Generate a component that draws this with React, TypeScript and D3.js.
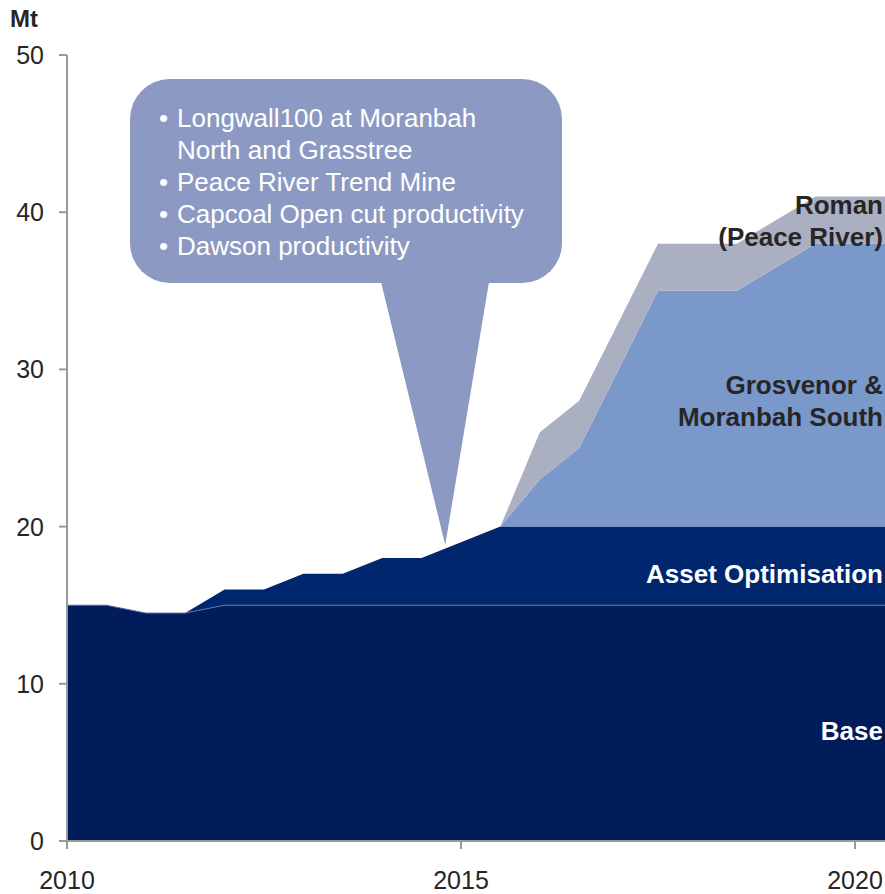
import React, { useEffect, useRef } from "react";
import * as d3 from "d3";

// half-year points, Mt
const years = [
  2010, 2010.5, 2011, 2011.5, 2012, 2012.5, 2013, 2013.5, 2014, 2014.5, 2015,
  2015.5, 2016, 2016.5, 2017, 2017.5, 2018, 2018.5, 2019, 2019.5, 2020, 2020.5,
];
const base = [
  15, 15, 14.5, 14.5, 15, 15, 15, 15, 15, 15, 15, 15, 15, 15, 15, 15, 15, 15,
  15, 15, 15, 15,
];
const assetOptimisation = [
  0, 0, 0, 0, 1, 1, 2, 2, 3, 3, 4, 5, 5, 5, 5, 5, 5, 5, 5, 5, 5, 5,
];
const grosvenor = [
  0, 0, 0, 0, 0, 0, 0, 0, 0, 0, 0, 0, 3, 5, 10, 15, 15, 15, 16.5, 18, 18, 18,
];
const roman = [
  0, 0, 0, 0, 0, 0, 0, 0, 0, 0, 0, 0, 3, 3, 3, 3, 3, 3, 3, 3, 3, 3,
];

const seriesKeys = ["base", "asset", "grosvenor", "roman"];
const seriesColors = ["#001c5a", "#00266e", "#7b98ca", "#aaafc2"];

const yTicks = [0, 10, 20, 30, 40, 50];
const xTicks = [2010, 2015, 2020];

const bullets = [
  ["Longwall100 at Moranbah", "North and Grasstree"],
  ["Peace River Trend Mine"],
  ["Capcoal Open cut productivity"],
  ["Dawson productivity"],
];

const seriesLabels = [
  { lines: ["Roman", "(Peace River)"], y: 39.45, color: "#262626" },
  { lines: ["Grosvenor &", "Moranbah South"], y: 28, color: "#262626" },
  { lines: ["Asset Optimisation"], y: 17, color: "#ffffff" },
  { lines: ["Base"], y: 7, color: "#ffffff" },
];

const W = 885;
const H = 894;

export default function App() {
  const ref = useRef<SVGSVGElement>(null);

  useEffect(() => {
    const svg = d3.select(ref.current);
    svg.selectAll("*").remove();

    const x = d3.scaleLinear().domain([2010, 2020]).range([67, 855]);
    const y = d3.scaleLinear().domain([0, 50]).range([841, 55]);

    const rows = years.map((yr, i) => ({
      year: yr,
      base: base[i],
      asset: assetOptimisation[i],
      grosvenor: grosvenor[i],
      roman: roman[i],
    }));
    const stacked = d3.stack<any>().keys(seriesKeys)(rows);

    svg
      .append("defs")
      .append("clipPath")
      .attr("id", "plot")
      .append("rect")
      .attr("x", 67)
      .attr("y", 0)
      .attr("width", W - 67)
      .attr("height", 841);

    const area = d3
      .area<any>()
      .x((d) => x(d.data.year))
      .y0((d) => y(d[0]))
      .y1((d) => y(d[1]));

    svg
      .append("g")
      .attr("clip-path", "url(#plot)")
      .selectAll("path")
      .data(stacked)
      .enter()
      .append("path")
      .attr("fill", (d, i) => seriesColors[i])
      .attr("d", area);

    // thin light line on top of base
    svg
      .append("path")
      .attr("clip-path", "url(#plot)")
      .datum(rows)
      .attr("fill", "none")
      .attr("stroke", "#5d72a3")
      .attr("stroke-width", 1)
      .attr(
        "d",
        d3
          .line<any>()
          .x((d) => x(d.year))
          .y((d) => y(d.base))
      );

    // axes
    const axisColor = "#999999";
    svg
      .append("line")
      .attr("x1", x(2010))
      .attr("x2", W)
      .attr("y1", y(0))
      .attr("y2", y(0))
      .attr("stroke", axisColor)
      .attr("stroke-width", 2);
    svg
      .append("line")
      .attr("x1", x(2010))
      .attr("x2", x(2010))
      .attr("y1", y(0))
      .attr("y2", y(50))
      .attr("stroke", axisColor)
      .attr("stroke-width", 2);

    svg
      .selectAll(".ytick")
      .data(yTicks)
      .enter()
      .append("line")
      .attr("x1", x(2010) - 8)
      .attr("x2", x(2010))
      .attr("y1", (d) => y(d))
      .attr("y2", (d) => y(d))
      .attr("stroke", axisColor)
      .attr("stroke-width", 2);

    svg
      .selectAll(".ylab")
      .data(yTicks)
      .enter()
      .append("text")
      .attr("x", 44)
      .attr("y", (d) => y(d))
      .attr("dy", "0.36em")
      .attr("text-anchor", "end")
      .attr("font-size", 25)
      .attr("fill", "#262626")
      .text((d) => d);

    svg
      .selectAll(".xtick")
      .data(xTicks)
      .enter()
      .append("line")
      .attr("x1", (d) => x(d))
      .attr("x2", (d) => x(d))
      .attr("y1", y(0))
      .attr("y2", y(0) + 8)
      .attr("stroke", axisColor)
      .attr("stroke-width", 2);

    svg
      .selectAll(".xlab")
      .data(xTicks)
      .enter()
      .append("text")
      .attr("x", (d) => x(d))
      .attr("y", 889)
      .attr("text-anchor", "middle")
      .attr("font-size", 25)
      .attr("fill", "#262626")
      .text((d) => d);

    svg
      .append("text")
      .attr("x", 10)
      .attr("y", 27)
      .attr("font-size", 24)
      .attr("font-weight", "bold")
      .attr("fill", "#262626")
      .text("Mt");

    // callout
    const bx = 130,
      by = 79,
      bw = 432,
      bh = 204,
      r = 40;
    const tip: [number, number] = [x(2014.8), y(18.83)];
    const callout = svg.append("g");
    callout
      .append("rect")
      .attr("x", bx)
      .attr("y", by)
      .attr("width", bw)
      .attr("height", bh)
      .attr("rx", r)
      .attr("fill", "#8c9ac3");
    callout
      .append("path")
      .attr(
        "d",
        `M381,${by + bh - 1} L489,${by + bh - 1} L${tip[0]},${tip[1]} Z`
      )
      .attr("fill", "#8c9ac3");

    let line = 0;
    bullets.forEach((b) => {
      b.forEach((t, j) => {
        const cy = 118 + line * 32;
        if (j === 0) {
          callout
            .append("text")
            .attr("x", 159)
            .attr("y", cy)
            .attr("dy", "0.36em")
            .attr("font-size", 26)
            .attr("fill", "#ffffff")
            .text("•");
        }
        callout
          .append("text")
          .attr("x", 177)
          .attr("y", cy)
          .attr("dy", "0.36em")
          .attr("font-size", 26)
          .attr("fill", "#ffffff")
          .text(t);
        line++;
      });
    });

    // series labels
    seriesLabels.forEach((l) => {
      const n = l.lines.length;
      l.lines.forEach((t, j) => {
        svg
          .append("text")
          .attr("x", 883)
          .attr("y", y(l.y) + (j - (n - 1) / 2) * 32)
          .attr("dy", "0.36em")
          .attr("text-anchor", "end")
          .attr("font-size", 26)
          .attr("font-weight", "bold")
          .attr("fill", l.color)
          .text(t);
      });
    });
  }, []);

  return (
    <svg
      ref={ref}
      width={W}
      height={H}
      style={{
        position: "absolute",
        left: 0,
        top: 0,
        fontFamily: "'Liberation Sans', Arial, sans-serif",
        background: "#fff",
      }}
    />
  );
}
